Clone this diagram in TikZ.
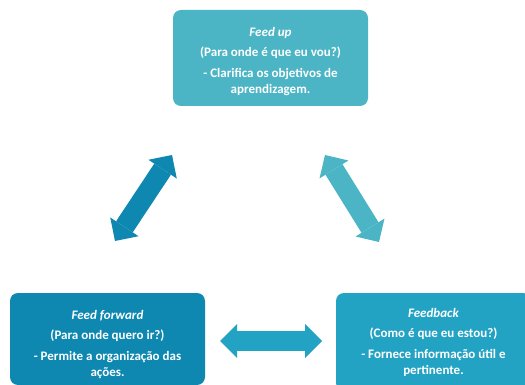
\documentclass[tikz,border=0pt]{standalone}
\usepackage{fontspec}
\setmainfont{Carlito}
\usetikzlibrary{arrows.meta}
\definecolor{upcol}{HTML}{4BB5C5}
\definecolor{fwdcol}{HTML}{0E88B0}
\definecolor{backcol}{HTML}{23A3C4}

\begin{document}
\begin{tikzpicture}[x=1pt, y=-1pt,
  every node/.style={inner sep=0pt},
  box/.style={rounded corners=8pt, text=white, align=center, minimum width=195pt, minimum height=92pt,
    font=\fontsize{13}{16}\selectfont\bfseries},
  biarrow/.style={line width=20pt,
    {Triangle[length=17pt, width=34pt, line width=0pt]}-{Triangle[length=17pt, width=34pt, line width=0pt]}}]
\useasboundingbox (0,0) rectangle (525,385);

\node[box, fill=upcol, minimum height=96pt] (up) at (270.5,58)
  {\rule{0pt}{15.5pt}\textit{Feed up}\\[4pt](Para onde é que eu vou?)\\[5pt]- Clarifica os objetivos de\\aprendizagem.};
\node[box, fill=fwdcol] (fwd) at (107.5,339)
  {\rule{0pt}{19.5pt}\textit{Feed forward}\\[4pt](Para onde quero ir?)\\[5pt]- Permite a organização das\\ações.};
\node[box, fill=backcol, minimum height=98pt] (back) at (433.5,342)
  {\textit{Feedback}\\[4pt](Como é que eu estou?)\\[5pt]- Fornece informação útil e\\pertinente.};

\coordinate (fwd-a) at (115,241);
\coordinate (up-a) at (172,155);
\coordinate (up-b) at (325,155);
\coordinate (back-b) at (379,242);
\coordinate (fwd-c) at (220,341);
\coordinate (back-c) at (322,341);

\draw[biarrow, fwdcol] (fwd-a) -- (up-a);
\draw[biarrow, upcol] (up-b) -- (back-b);
\draw[biarrow, backcol] (fwd-c) -- (back-c);
\end{tikzpicture}
\end{document}
